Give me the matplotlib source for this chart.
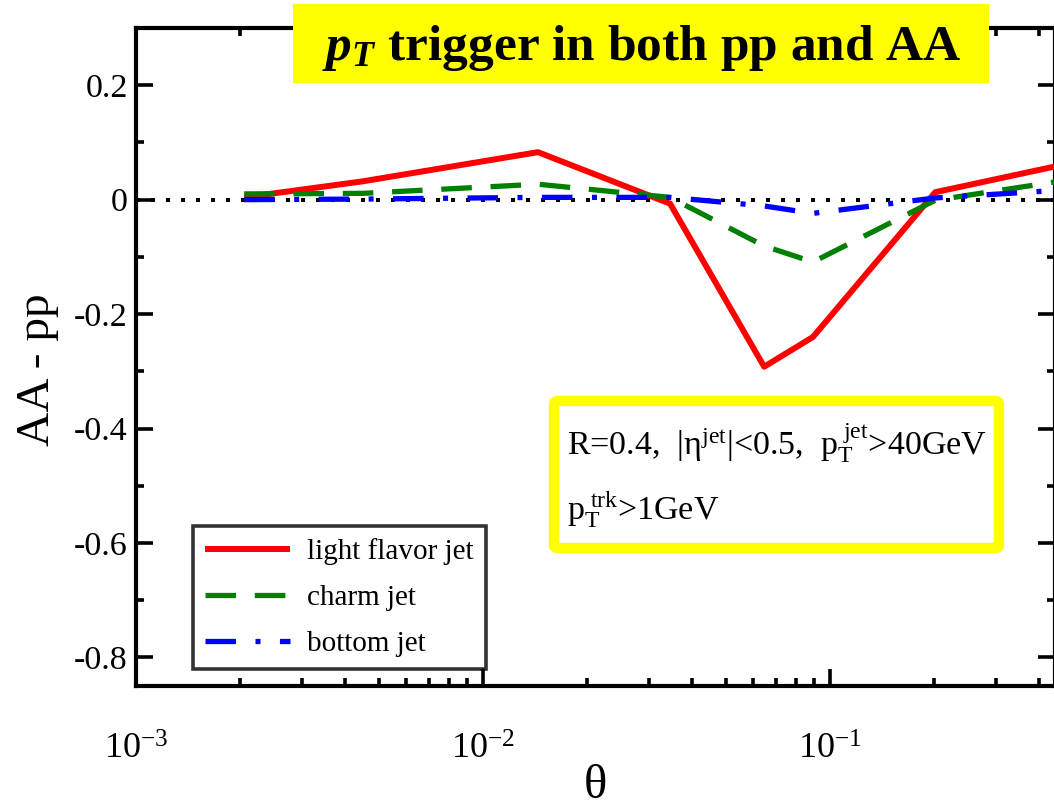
import matplotlib
matplotlib.use("Agg")
import matplotlib.pyplot as plt
from matplotlib.ticker import LogLocator, MultipleLocator, FuncFormatter, LogFormatterMathtext, NullFormatter
from matplotlib.patches import Rectangle, FancyBboxPatch

# Jet substructure difference (AA - pp) vs angle theta
theta = [0.00205, 0.0045, 0.0144, 0.0346, 0.0646, 0.0893, 0.201, 0.445]
light_flavor = [0.004, 0.032, 0.083, -0.007, -0.292, -0.240, 0.013, 0.058]
charm = [0.010, 0.011, 0.027, 0.004, -0.081, -0.109, -0.001, 0.031]
bottom = [0.000, 0.001, 0.004, 0.004, -0.011, -0.024, 0.003, 0.016]

series_labels = ["light flavor jet", "charm jet", "bottom jet"]
title_text = r"$\mathbfit{p}_{\mathbfit{T}}$ trigger in both pp and AA"
cut_line1 = r"R=0.4,  $\mathrm{|\eta^{jet}|}$<0.5,  $\mathrm{p_T^{\ jet}}$>40GeV"
cut_line2 = r"$\mathrm{p_T^{\ trk}}$>1GeV"

plt.rcParams.update({
    "font.family": "Liberation Serif",
    "mathtext.fontset": "custom",
    "mathtext.rm": "Liberation Serif",
    "mathtext.it": "Liberation Serif:italic",
    "mathtext.bf": "Liberation Serif:bold",
    "mathtext.bfit": "Liberation Serif:italic:bold",
    "axes.unicode_minus": False,
    "lines.scale_dashes": False,
})

W, H = 1054, 808
fig = plt.figure(figsize=(W / 100, H / 100), dpi=100)
ax = fig.add_axes([136 / W, 1 - 686 / H, 919 / W, 658 / H])

ax.set_xscale("log")
ax.set_xlim(1e-3, 0.445)
ax.set_ylim(-0.85, 0.30)

ax.axhline(0, color="black", lw=2.9, linestyle=(0, (2.9, 7.9)), zorder=1)

ax.plot(theta, light_flavor, color="#ff0000", lw=4.3, solid_capstyle="butt",
        label=series_labels[0], zorder=3)
ax.plot(theta, charm, color="#008000", lw=3.8, linestyle=(0, (22, 13.5)),
        label=series_labels[1], zorder=3)
ax.plot(theta, bottom, color="#0000ff", lw=3.8, linestyle=(0, (22, 14, 3.6, 14)),
        label=series_labels[2], zorder=3)

# axes styling
for sp in ax.spines.values():
    sp.set_linewidth(3)
ax.xaxis.set_major_locator(LogLocator(base=10, numticks=10))
ax.xaxis.set_minor_locator(LogLocator(base=10, subs=range(2, 10), numticks=20))
ax.xaxis.set_major_formatter(LogFormatterMathtext())
ax.xaxis.set_minor_formatter(NullFormatter())
ax.yaxis.set_major_locator(MultipleLocator(0.2))
ax.yaxis.set_minor_locator(MultipleLocator(0.1))
ax.yaxis.set_major_formatter(FuncFormatter(lambda v, p: "0" if abs(v) < 1e-9 else f"{v:.1f}"))

ax.tick_params(which="both", direction="in", top=True, right=True, width=2.6)
ax.tick_params(which="major", length=12)
ax.tick_params(which="minor", length=6)
ax.tick_params(axis="y", which="major", pad=6, labelsize=24.5)
ax.tick_params(axis="x", which="major", pad=34, labelsize=26)

ax.set_xlabel("θ", fontsize=35)
ax.xaxis.set_label_coords(0.5, -0.118)
ax.set_ylabel("AA - pp", fontsize=34)
ax.yaxis.set_label_coords(-0.084, 0.48)

leg = ax.legend(loc="lower left", bbox_to_anchor=((193 - 136) / 919, (686 - 669) / 658),
                borderaxespad=0, fontsize=21, frameon=True, fancybox=False,
                handlelength=2.9, handletextpad=0.6, labelspacing=0.66,
                borderpad=0.42)
leg.get_frame().set_edgecolor("black")
leg.get_frame().set_linewidth(2.6)

# cut information box
info = FancyBboxPatch((554 / W, 1 - 548 / H), (999 - 554) / W, (548 - 401) / H,
                      boxstyle="round,pad=0,rounding_size=0.004",
                      transform=fig.transFigure, facecolor="white",
                      edgecolor="#ffff00", linewidth=7.5, zorder=5)
fig.patches.append(info)
fig.text(567 / W, 1 - 455 / H, cut_line1, fontsize=24.5, ha="left", va="baseline", zorder=6)
fig.text(567 / W, 1 - 520 / H, cut_line2, fontsize=24.5, ha="left", va="baseline", zorder=6)

# title banner
banner = Rectangle((293 / W, 1 - 83 / H), (989 - 293) / W, (83 - 4) / H,
                   transform=fig.transFigure, facecolor="#ffff00", edgecolor="none", zorder=5)
fig.patches.append(banner)
fig.text(642 / W, 1 - 60 / H, title_text, fontsize=37, fontweight="bold",
         ha="center", va="baseline", zorder=6)

fig.savefig("out.png", dpi=100)
